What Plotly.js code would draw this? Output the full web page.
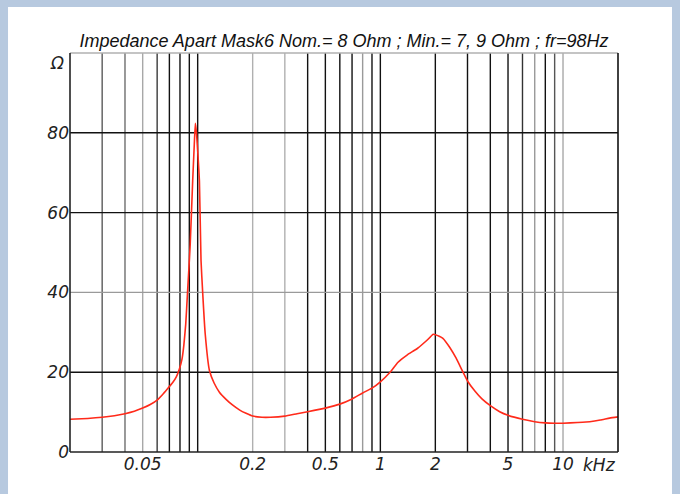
<!DOCTYPE html>
<html>
<head>
<meta charset="utf-8">
<script src="https://cdn.plot.ly/plotly-3.0.1.min.js"></script>
<style>
  html, body { margin: 0; padding: 0; background: #b7c9df; }
  #chart { width: 680px; height: 494px; }
</style>
</head>
<body>
<div id="chart"></div>
<script>
// Impedance curve of the Apart Mask6 loudspeaker (frequency in kHz, impedance in ohm)
const freqKHz = [
  0.020, 0.025, 0.030, 0.035, 0.040, 0.045, 0.050, 0.055, 0.060, 0.0643,
  0.068, 0.073, 0.0765, 0.0794, 0.082, 0.084, 0.086, 0.088, 0.091, 0.0939,
  0.0958, 0.0971, 0.0985, 0.1005, 0.1022, 0.1043, 0.1065, 0.110, 0.1159, 0.123,
  0.1315, 0.143, 0.155, 0.170, 0.184, 0.200, 0.225, 0.250, 0.300, 0.350,
  0.400, 0.500, 0.600, 0.700, 0.800, 0.900, 1.000, 1.130, 1.250, 1.400,
  1.600, 1.800, 1.950, 2.100, 2.200, 2.400, 2.600, 2.800, 3.000, 3.300,
  3.600, 4.000, 4.500, 5.000, 6.000, 7.000, 8.000, 9.000, 10.00, 12.00,
  14.00, 16.00, 18.00, 20.00
];
const impedanceOhm = [
  8.2, 8.4, 8.7, 9.1, 9.6, 10.2, 11.0, 11.9, 13.0, 14.4,
  15.7, 17.4, 18.9, 20.8, 23.2, 26.8, 32.0, 40.0, 52.0, 68.0,
  77.0, 82.4, 80.0, 74.0, 68.0, 48.0, 40.0, 29.5, 20.5, 17.3,
  15.0, 13.2, 11.8, 10.5, 9.7, 9.0, 8.7, 8.7, 9.0, 9.6,
  10.1, 11.0, 12.0, 13.3, 14.8, 16.0, 17.6, 20.0, 22.5, 24.3,
  26.0, 28.0, 29.5, 29.0, 28.5, 26.2, 23.5, 20.5, 17.8, 15.2,
  13.3, 11.6, 10.1, 9.2, 8.2, 7.6, 7.3, 7.2, 7.2, 7.4,
  7.6, 8.0, 8.5, 8.8
];

// Axis ticks
const xTickVals = [0.05, 0.2, 0.5, 1, 2, 5, 10];
const xTickText = ['0.05', '0.2', '0.5', '1', '2', '5', '10'];
const yTickVals = [0, 20, 40, 60, 80];
const yTickText = ['0', '20', '40', '60', '80'];

// Decade grid (kHz) and horizontal grid (ohm)
const gridFreqs = [
  0.03, 0.04, 0.05, 0.06, 0.07, 0.08, 0.09, 0.1,
  0.2, 0.3, 0.4, 0.5, 0.6, 0.7, 0.8, 0.9, 1,
  2, 3, 4, 5, 6, 7, 8, 9, 10
];
const gridOhms = [20, 40, 60, 80];

// Line shades for the grid (the rest are drawn black)
const gridShade = {
  0.03: '#5a5a5a', 0.04: '#6e6e6e', 0.05: '#a8a8a8', 0.06: '#3a3a3a',
  0.2: '#b0b0b0', 0.3: '#b0b0b0', 0.8: '#9a9a9a',
  6: '#333333', 7: '#9a9a9a', 9: '#555555', 10: '#a8a8a8'
};
const hGridShade = { 40: '#9a9a9a' };

const shapes = [];

// white sheet behind the chart
shapes.push({
  type: 'rect', xref: 'paper', yref: 'paper', layer: 'below',
  x0: -0.1131, x1: 1.0985, y0: -0.2, y1: 1.1153,
  fillcolor: '#ffffff', line: { width: 0 }
});

gridFreqs.forEach(f => {
  shapes.push({
    type: 'line', xref: 'x', yref: 'paper', layer: 'below',
    x0: f, x1: f, y0: 0, y1: 1,
    line: { color: gridShade[f] || '#111111', width: 1.4 }
  });
});
gridOhms.forEach(v => {
  shapes.push({
    type: 'line', xref: 'paper', yref: 'y', layer: 'below',
    x0: 0, x1: 1, y0: v, y1: v,
    line: { color: hGridShade[v] || '#111111', width: 1.4 }
  });
});

// frame: dark on three sides, light on top
shapes.push({ type: 'line', xref: 'paper', yref: 'paper', x0: 0, x1: 1, y0: 1, y1: 1,
  line: { color: '#b0b0b0', width: 1.4 } });
shapes.push({ type: 'line', xref: 'paper', yref: 'paper', x0: 0, x1: 0, y0: 0, y1: 1,
  line: { color: '#222222', width: 1.6 } });
shapes.push({ type: 'line', xref: 'paper', yref: 'paper', x0: 1, x1: 1, y0: 0, y1: 1,
  line: { color: '#111111', width: 1.6 } });
shapes.push({ type: 'line', xref: 'paper', yref: 'paper', x0: 0, x1: 1, y0: 0, y1: 0,
  line: { color: '#222222', width: 1.6 } });

const tickFont = { family: 'DejaVu Sans, sans-serif', size: 17, color: '#222222', style: 'italic' };

const trace = {
  x: freqKHz,
  y: impedanceOhm,
  type: 'scatter',
  mode: 'lines',
  line: { color: '#ff2a1a', width: 1.6, shape: 'spline', smoothing: 0.4 },
  hoverinfo: 'x+y'
};

const layout = {
  width: 680,
  height: 494,
  margin: { l: 70, r: 62, t: 53, b: 42 },
  paper_bgcolor: '#b7c9df',
  plot_bgcolor: 'rgba(0,0,0,0)',
  showlegend: false,
  title: {
    text: 'Impedance Apart Mask6 Nom.= 8 Ohm ; Min.= 7, 9 Ohm ; fr=98Hz',
    font: { family: 'Liberation Sans, Arial, sans-serif', size: 18, color: '#111111', style: 'italic' },
    x: 0.5, xanchor: 'center', y: 0.918, yanchor: 'middle', xref: 'paper'
  },
  xaxis: {
    type: 'log',
    range: [Math.log10(0.02), Math.log10(20)],
    showgrid: false, zeroline: false, showline: false,
    tickmode: 'array', tickvals: xTickVals, ticktext: xTickText,
    ticks: '', tickfont: tickFont, fixedrange: true
  },
  yaxis: {
    range: [0, 100],
    showgrid: false, zeroline: false, showline: false,
    tickmode: 'array', tickvals: yTickVals, ticktext: yTickText,
    ticks: '', tickfont: tickFont, fixedrange: true
  },
  annotations: [
    { text: 'kHz', xref: 'x', yref: 'paper', x: Math.log10(12.6), y: -0.033,
      xanchor: 'left', yanchor: 'middle', showarrow: false, font: tickFont },
    { text: 'Ω', xref: 'paper', yref: 'paper', x: -0.008, y: 0.975,
      xanchor: 'right', yanchor: 'middle', showarrow: false, font: tickFont }
  ],
  shapes: shapes
};

Plotly.newPlot('chart', [trace], layout, { displayModeBar: false, staticPlot: true });
</script>
</body>
</html>
